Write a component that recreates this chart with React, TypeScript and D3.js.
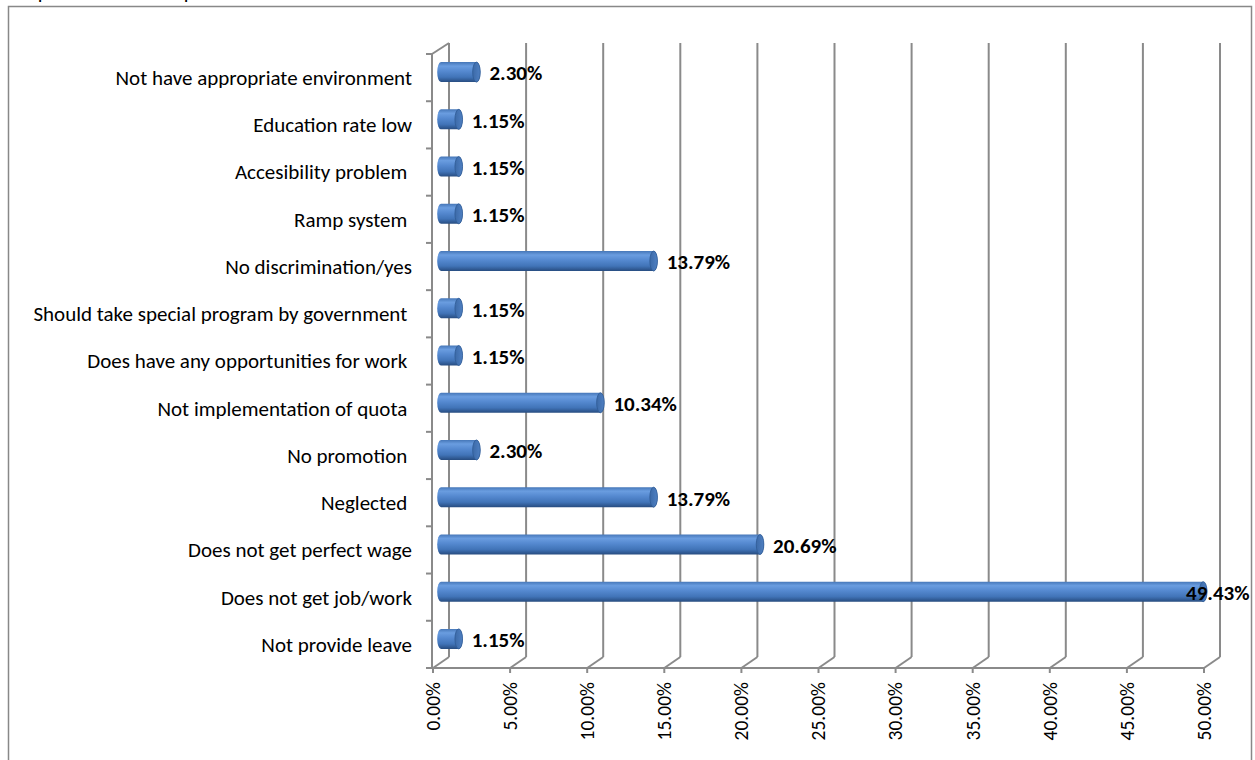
import React, { useEffect, useRef } from 'react';
import * as d3 from 'd3';

// categories top -> bottom, values in percent
const categories = [
  'Not have appropriate environment',
  'Education rate low',
  'Accesibility problem ',
  'Ramp system ',
  'No discrimination/yes',
  'Should take special program by government ',
  'Does have any opportunities for work ',
  'Not implementation of quota ',
  'No promotion ',
  'Neglected ',
  'Does not get perfect wage',
  'Does not get job/work',
  'Not provide leave',
];
const values = [2.3, 1.15, 1.15, 1.15, 13.79, 1.15, 1.15, 10.34, 2.3, 13.79, 20.69, 49.43, 1.15];
const ticks = [0, 5, 10, 15, 20, 25, 30, 35, 40, 45, 50];

const FONT = 'Carlito, Calibri, Lato, sans-serif';

function drawChart(svgRef: React.RefObject<SVGSVGElement>) {
  const svg = d3.select(svgRef.current);
  svg.selectAll('*').remove();

  const W = 1255;
  const H = 760;
  const frameRight = 1251.5;

  // front plane of the 3d box
  const left = 433;
  const right = 1204;
  const top = 54;
  const bottom = 668;
  // depth offset of the back plane
  const dx = 16;
  const dy = -11;

  const x = d3.scaleLinear().domain([0, 50]).range([left, right]);
  const y = d3.scaleBand<string>().domain(categories).range([top, bottom]);

  svg.attr('width', W).attr('height', H);

  // chopped title at the very top (only its descenders show)
  svg.append('text')
    .attr('x', 8)
    .attr('y', -1)
    .attr('font-family', FONT)
    .attr('font-size', 21)
    .attr('fill', '#000')
    .text('Responses of the respondents');

  svg.append('rect')
    .attr('x', 8.5)
    .attr('y', 6.5)
    .attr('width', frameRight - 8.5)
    .attr('height', H)
    .attr('fill', '#fff')
    .attr('stroke', '#888')
    .attr('stroke-width', 1.5);

  const grid = svg.append('g')
    .attr('stroke', '#8a8a8a')
    .attr('stroke-width', 2)
    .attr('fill', 'none');

  // back wall gridlines + floor diagonals
  ticks.forEach(t => {
    grid.append('line')
      .attr('x1', x(t) + dx).attr('y1', top + dy)
      .attr('x2', x(t) + dx).attr('y2', bottom + dy);
    grid.append('line')
      .attr('x1', x(t)).attr('y1', bottom)
      .attr('x2', x(t) + dx).attr('y2', bottom + dy);
    grid.append('line')
      .attr('x1', x(t)).attr('y1', bottom)
      .attr('x2', x(t)).attr('y2', bottom + 5);
  });

  // left wall
  grid.append('line')
    .attr('x1', left - 1).attr('y1', top)
    .attr('x2', left - 1).attr('y2', bottom);
  grid.append('line')
    .attr('x1', left - 1).attr('y1', top)
    .attr('x2', x(0) + dx).attr('y2', top + dy);
  // floor front edge
  grid.append('line')
    .attr('x1', left - 6).attr('y1', bottom)
    .attr('x2', right).attr('y2', bottom);

  // category ticks
  const bounds = categories.map(c => y(c) as number).concat([bottom]);
  bounds.forEach(b => {
    grid.append('line')
      .attr('x1', left - 7).attr('y1', b)
      .attr('x2', left - 1).attr('y2', b);
  });

  // cylinder gradient
  const defs = svg.append('defs');
  const grad = defs.append('linearGradient')
    .attr('id', 'cyl')
    .attr('x1', 0).attr('y1', 0).attr('x2', 0).attr('y2', 1);
  [
    [0, '#4677b8'],
    [0.2, '#6a9de0'],
    [0.45, '#5589d0'],
    [0.75, '#4174b8'],
    [1, '#274c80'],
  ].forEach(([o, c]) => grad.append('stop').attr('offset', o as number).attr('stop-color', c as string));

  const capGrad = defs.append('linearGradient')
    .attr('id', 'cap')
    .attr('x1', 0).attr('y1', 0).attr('x2', 1).attr('y2', 0);
  capGrad.append('stop').attr('offset', 0).attr('stop-color', '#3c6aa8');
  capGrad.append('stop').attr('offset', 1).attr('stop-color', '#4f80c2');

  const barH = 20;
  const rx = 3.8;
  const ry = barH / 2;

  const bars = svg.append('g');
  categories.forEach((c, i) => {
    const v = values[i];
    const cy = (y(c) as number) + y.bandwidth() / 2 + dy / 2;
    const x0 = x(0) + dx / 2;
    const x1 = x(v) + dx / 2;
    const t = cy - ry;
    const b = cy + ry;

    bars.append('path')
      .attr('d', `M${x0},${t} L${x1},${t} A${rx},${ry} 0 0 1 ${x1},${b} L${x0},${b} A${rx},${ry} 0 0 1 ${x0},${t} Z`)
      .attr('fill', 'url(#cyl)');

    bars.append('ellipse')
      .attr('cx', x1)
      .attr('cy', cy)
      .attr('rx', rx)
      .attr('ry', ry)
      .attr('fill', 'url(#cap)')
      .attr('stroke', '#2f5a94')
      .attr('stroke-width', 0.8);
  });

  // value labels
  const labels = svg.append('g')
    .attr('font-family', FONT)
    .attr('font-size', 21)
    .attr('font-weight', 'bold')
    .attr('fill', '#000');
  categories.forEach((c, i) => {
    const v = values[i];
    const cy = (y(c) as number) + y.bandwidth() / 2 + dy / 2 + 1;
    const lx = x(v) + dx / 2 + 13;
    const txt = d3.format('.2f')(v) + '%';
    const el = labels.append('text')
      .attr('x', lx)
      .attr('y', cy)
      .attr('dy', '0.35em')
      .text(txt);
    const node = el.node() as SVGTextElement;
    const w = node.getComputedTextLength();
    if (lx + w > frameRight - 2) {
      el.attr('x', frameRight - 2).attr('text-anchor', 'end');
    }
  });

  // category labels
  svg.append('g')
    .attr('font-family', FONT)
    .attr('font-size', 21)
    .attr('fill', '#000')
    .attr('text-anchor', 'end')
    .selectAll('text')
    .data(categories)
    .join('text')
    .style('white-space', 'pre')
    .attr('x', left - 21)
    .attr('y', d => (y(d) as number) + y.bandwidth() / 2)
    .attr('dy', '0.35em')
    .text(d => d);

  // value axis labels, rotated
  svg.append('g')
    .attr('font-family', FONT)
    .attr('font-size', 19.5)
    .attr('fill', '#000')
    .selectAll('text')
    .data(ticks)
    .join('text')
    .attr('text-anchor', 'end')
    .attr('dy', '0.35em')
    .attr('transform', d => `translate(${x(d)},${bottom + 14}) rotate(-90)`)
    .text(d => d3.format('.2f')(d) + '%');
}

const App = () => {
  const svg = useRef<SVGSVGElement>(null);

  useEffect(() => {
    drawChart(svg);
  }, [svg]);

  return (
    <div id="chart">
      <svg ref={svg} style={{ position: 'absolute', left: 0, top: 0, background: '#fff' }} />
    </div>
  );
};

export default App;
